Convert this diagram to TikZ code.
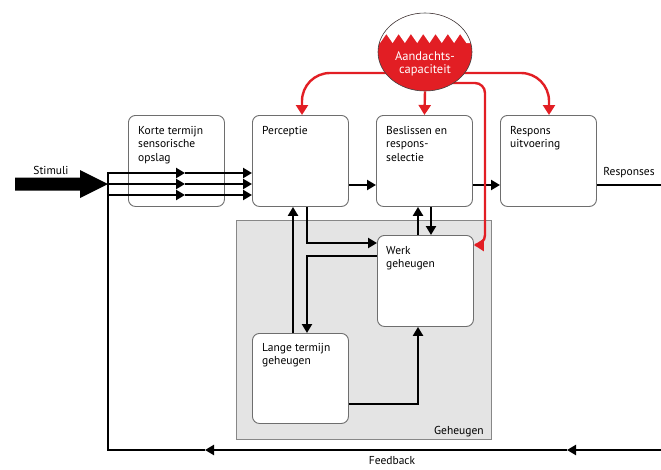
\documentclass[tikz,border=0pt]{standalone}
\usepackage{fontspec}
\setmainfont{PT Sans}
\usetikzlibrary{arrows.meta}
\usetikzlibrary{positioning}
\usetikzlibrary{shapes.geometric}
\definecolor{attred}{RGB}{226,30,36}
\definecolor{boxgray}{RGB}{110,110,110}
\definecolor{memfill}{RGB}{228,228,228}
\definecolor{memline}{RGB}{135,135,135}

\begin{document}
\begin{tikzpicture}[x=1pt, y=-1pt,
	box/.style={draw=boxgray, line width=0.9pt, fill=white, rounded corners=7pt,
		minimum width=96pt, minimum height=91pt, anchor=north west, inner sep=0pt},
	lbl/.style={align=left, inner sep=0pt, font=\fontsize{11.5}{13.5}\selectfont},
	flow/.style={line width=2.4pt, -{Triangle[length=9pt, width=10pt]}},
	plain/.style={line width=2.4pt},
	attflow/.style={attred, line width=2.4pt, -{Triangle[length=10pt, width=12pt]}}]
	\useasboundingbox (0,0) rectangle (661,469);

	% Geheugen region and the boxes
	\node[draw=memline, fill=memfill, line width=0.9pt, minimum width=255pt,
		minimum height=219pt, anchor=north west, inner sep=0pt] (mem) at (236,220) {};
	\node[lbl, above left=3pt and 8pt of mem.south east] (memt) {Geheugen};

	\node[box] (kort) at (128,115) {};
	\node[box] (perc) at (252,115) {};
	\node[box] (besl) at (376,115) {};
	\node[box] (resp) at (500,115) {};
	\node[box] (werk) at (377,235) {};
	\node[box, minimum height=90pt] (lange) at (252,333) {};

	\node[lbl, below right=11pt and 10pt of kort.north west] (kortt) {Korte termijn\\sensorische\\opslag};
	\node[lbl, below right=11pt and 10pt of perc.north west] (perct) {Perceptie};
	\node[lbl, below right=11pt and 10pt of besl.north west] (beslt) {Beslissen en\\respons-\\selectie};
	\node[lbl, below right=11pt and 10pt of resp.north west] (respt) {Respons\\uitvoering};
	\node[lbl, below right=11pt and 9pt of werk.north west] (werkt) {Werk\\geheugen};
	\node[lbl, below right=10pt and 10pt of lange.north west] (langet) {Lange termijn\\geheugen};

	% Stimuli in, feedback loop
	\node[lbl] (stim) at (51,170) {Stimuli};
	\coordinate (split) at (108,173);
	\coordinate (fbcorner) at (108,450);
	\coordinate (fbin) at (661,450);
	\fill (15,177.5) -- (80,177.5) -- (80,170) -- (108,184) -- (80,198) -- (80,190.5) -- (15,190.5) -- cycle;
	\draw[flow] (fbin) -- (567,450);
	\draw[flow] (567,450) -- (205,450);
	\draw[flow] (205,450) -- (fbcorner) -- (split) -- (185,173);
	\draw[flow] (185,173) -- (perc.west |- 0,173);
	\foreach \y in {184,195} {
		\draw[flow] (108,\y) -- (185,\y);
		\draw[flow] (185,\y) -- (perc.west |- 0,\y);
	}
	\node[lbl] (fb) at (392,461) {Feedback};

	% main chain
	\draw[flow] (perc.east |- 0,185) -- (besl.west |- 0,185);
	\draw[flow] (besl.east |- 0,185) -- (resp.west |- 0,185);
	\coordinate (out) at (661,185);
	\draw[plain] (resp.east |- 0,185) -- (out);
	\node[lbl] (resps) at (629,173) {Responses};

	% memory links
	\draw[flow] (perc.south -| 307,0) -- (307,243) -- (werk.west |- 0,243);
	\draw[flow] (werk.west |- 0,256) -- (307,256) -- (lange.north -| 307,0);
	\draw[flow] (lange.north -| 293,0) -- (perc.south -| 293,0);
	\draw[flow] (werk.north -| 418,0) -- (besl.south -| 418,0);
	\draw[flow] (besl.south -| 431,0) -- (werk.north -| 431,0);
	\draw[flow] (lange.east |- 0,404) -- (418,404) -- (werk.south -| 418,0);

	% attention
	\draw[attflow, rounded corners=28pt] (425,73) -- (302,73) -- (perc.north -| 302,0);
	\draw[attflow, rounded corners=28pt] (425,73) -- (549,73) -- (resp.north -| 549,0);
	\draw[attflow, rounded corners=10pt] (440,83) -- (485,83) -- (485,245) -- (werk.east |- 0,245);
	\fill[attred] (425,52) ellipse [x radius=47, y radius=39];
	\begin{scope}
		\clip (425,52) ellipse [x radius=47, y radius=39];
		\fill[white] (370,0) -- (370,43) -- (380,43)
			\foreach \k in {0,...,6} { -- ({386.3+12.3*\k},34) -- ({392.6+12.3*\k},43) }
			-- (480,43) -- (480,0) -- cycle;
	\end{scope}
	\node[ellipse, draw=black!75, line width=0.6pt, minimum width=94pt, minimum height=78pt,
		inner sep=0pt] (attn) at (425,52) {};
	\node[lbl, align=center, text=white, font=\fontsize{12.5}{13.5}\selectfont] (attnt) at (425,64) {Aandachts-\\capaciteit};
	\draw[attflow] (attn.south) -- (besl.north);
\end{tikzpicture}
\end{document}
